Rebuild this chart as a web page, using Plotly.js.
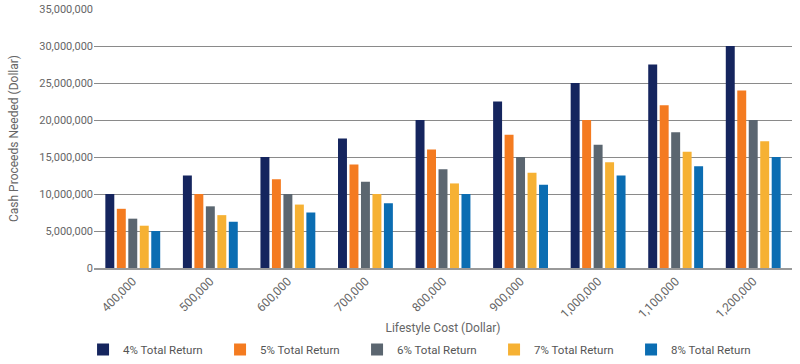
<!DOCTYPE html>
<html><head><meta charset="utf-8">
<script src="https://cdn.plot.ly/plotly-3.0.1.min.js"></script>
<style>html,body{margin:0;padding:0;background:#fff}#chart{width:800px;height:364px}</style>
</head><body><div id="chart"></div>
<script>
const categories = ["400,000","500,000","600,000","700,000","800,000","900,000","1,000,000","1,100,000","1,200,000"];
const seriesNames = ["4% Total Return","5% Total Return","6% Total Return","7% Total Return","8% Total Return"];
const r4 = [10000000,12500000,15000000,17500000,20000000,22500000,25000000,27500000,30000000];
const r5 = [8000000,10000000,12000000,14000000,16000000,18000000,20000000,22000000,24000000];
const r6 = [6666667,8333333,10000000,11666667,13333333,15000000,16666667,18333333,20000000];
const r7 = [5714286,7142857,8571429,10000000,11428571,12857143,14285714,15714286,17142857];
const r8 = [5000000,6250000,7500000,8750000,10000000,11250000,12500000,13750000,15000000];
const seriesValues = [r4,r5,r6,r7,r8];
const colors = ["#15255e","#f47b20","#5b6670","#f6b133","#0b6db2"];
const font = "Roboto, 'Noto Sans', sans-serif";
const traces = seriesValues.map((v,i)=>({type:'bar',name:seriesNames[i],x:categories,y:v,marker:{color:colors[i]},hoverinfo:'none'}));
const layout = {
  width:800,height:364,
  margin:{l:94,r:8,t:9,b:96},
  paper_bgcolor:'#fff',plot_bgcolor:'#fff',
  barmode:'group',bargap:0.26,bargroupgap:0.22,
  font:{family:font,color:'#666',size:11},
  xaxis:{type:'category',tickangle:-45,tickfont:{size:12,color:'#666'},showgrid:false,automargin:false,
    showline:true,linecolor:'#999',linewidth:1.5,ticks:'',
    title:{text:'Lifestyle Cost (Dollar)',font:{size:12,color:'#666'},standoff:6}},
  yaxis:{range:[0,35000000],dtick:5000000,tickformat:',d',showgrid:true,gridcolor:'#8a8a8a',gridwidth:1,automargin:false,
    zeroline:false,ticks:'',ticklen:0,tickfont:{size:11,color:'#666'},
    title:{text:'Cash Proceeds Needed (Dollar)',font:{size:12,color:'#666'},standoff:18}},
  legend:{orientation:'h',x:0.475,xref:'paper',xanchor:'center',yref:'container',y:0,yanchor:'bottom',entrywidth:92,
    font:{size:11.5,color:'#555'},itemwidth:30,traceorder:'normal'},
  showlegend:true
};
Plotly.newPlot('chart',traces,layout,{displayModeBar:false,staticPlot:true});
</script></body></html>
